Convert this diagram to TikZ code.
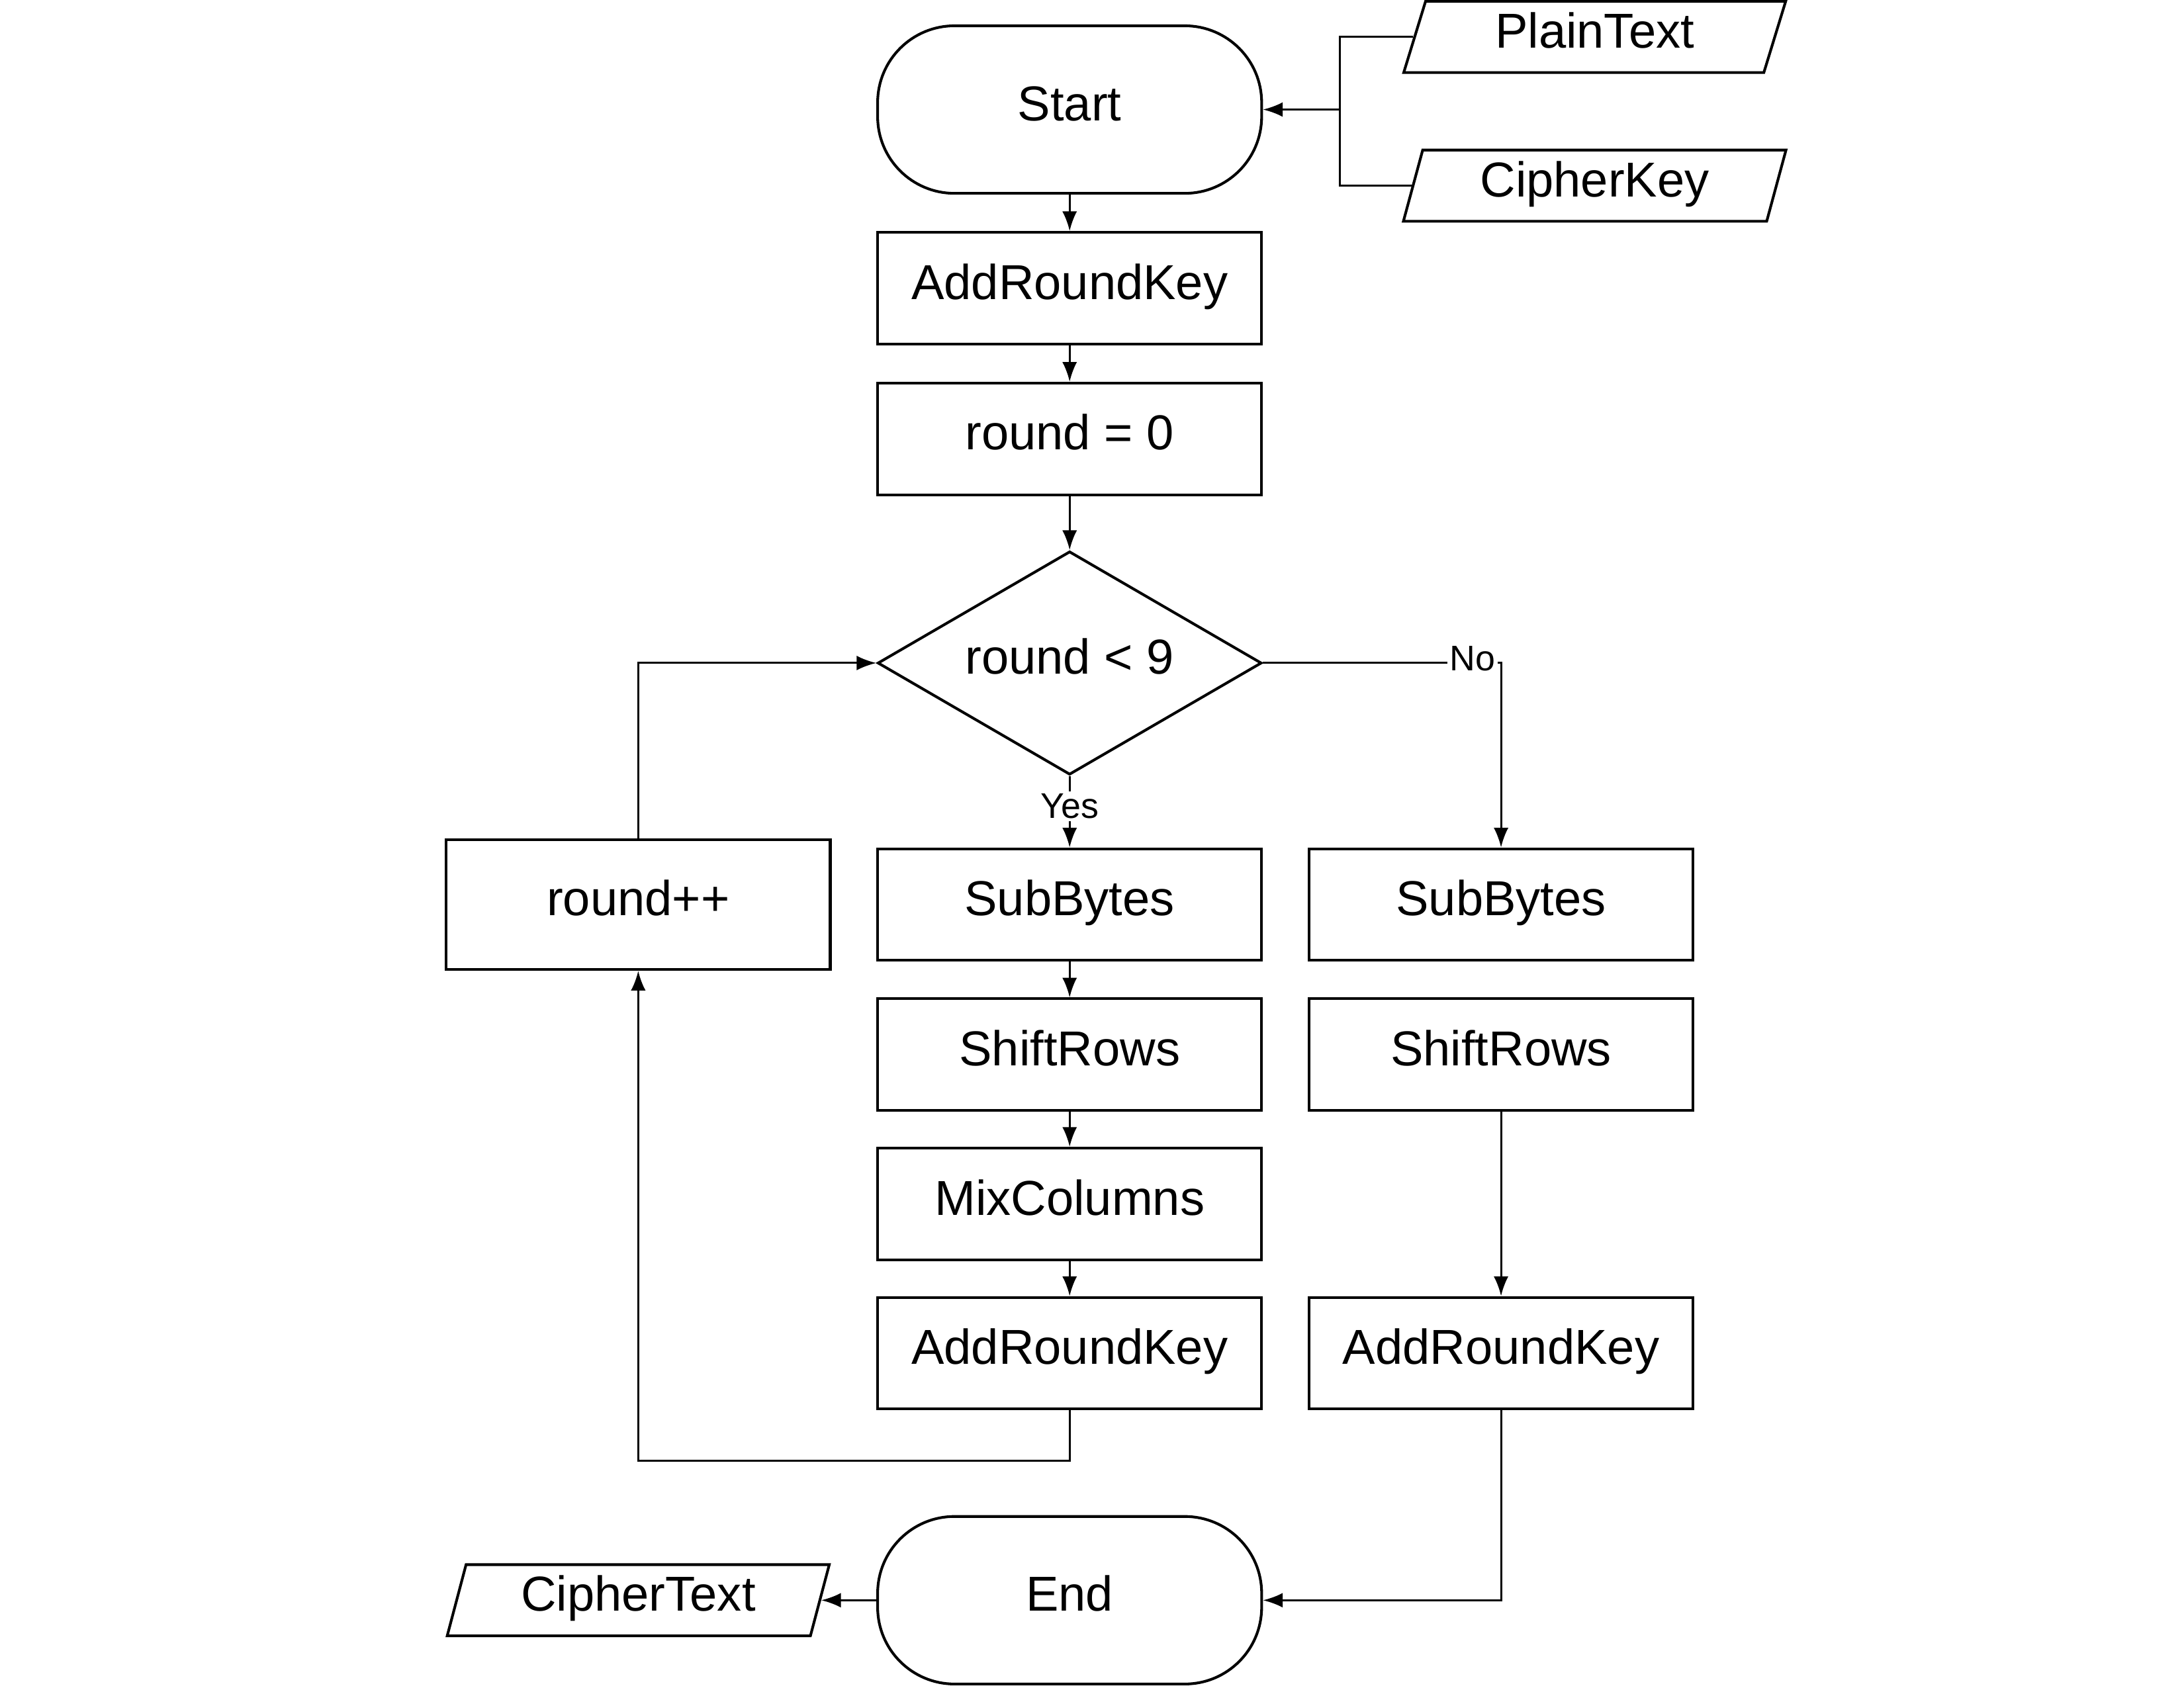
\documentclass[tikz,border=0pt]{standalone}
\usepackage{fontspec}
\setmainfont{Liberation Sans}
\usetikzlibrary{shapes,matrix,arrows.meta}

\begin{document}
\begin{tikzpicture}[
          every node/.style={font=\fontsize{20pt}{24pt}\selectfont},
          block/.style={
            draw=black,
            line width=1.1pt,
            text height=15pt,
            text depth=6pt,
          },
          process/.style={
            block,
            rectangle,
            minimum width=5.5cm,
            minimum height=1.6cm,
            inner sep=0pt,
          },
          terminal/.style={
            block,
            rectangle,
            rounded corners=1.1cm,
            minimum width=5.5cm,
            minimum height=2.4cm,
          },
          decision/.style={
            block,
            diamond,
            aspect=1.72,
            minimum width=5.5cm,
            minimum height=3.2cm,
            inner sep=0pt,
          },
          data/.style={
            block,
            trapezium,
            trapezium left angle=76,
            trapezium right angle=104,
            trapezium stretches=true,
            minimum width=5.48cm,
            minimum height=1.02cm,
            inner sep=0pt,
          },
          flow/.style={line width=0.8pt},
          answer/.style={font=\fontsize{14.5pt}{17pt}\selectfont, fill=white, inner sep=1pt},
          >={Latex[length=8pt,width=6pt]},
        ]
          \matrix[row sep=0.38cm, column sep=0.64cm]{%
            & \node[terminal](start){Start}; & \\[0.14cm]
            & \node[process](ark1){AddRoundKey}; & \\[0.14cm]
            & \node[process](init){round = 0}; & \\[0.4cm]
            & \node[decision](check){round < 9}; & \\[0.52cm]
            \node[process, minimum height=1.86cm](inc){round++}; & \node[process](sb1){SubBytes}; & \node[process](sb2){SubBytes}; \\
            & \node[process](sr1){ShiftRows}; & \node[process](sr2){ShiftRows}; \\[0.12cm]
            & \node[process](mix){MixColumns}; & \\[0.12cm]
            & \node[process](ark2){AddRoundKey}; & \node[process](ark3){AddRoundKey}; \\[1.12cm]
            \node[data](ctext){CipherText}; & \node[terminal](end){End}; & \\
          };
          \node[data](plain) at ([xshift=7.52cm, yshift=1.04cm]start.center){PlainText};
          \node[data](key) at ([xshift=7.52cm, yshift=-1.09cm]start.center){CipherKey};
          \coordinate (merge) at ([xshift=1.1cm]start.east);
          \coordinate (back) at ([yshift=-0.72cm]ark2.south);
          \useasboundingbox ([shift={(-15.32cm,1.56cm)}]start.center) rectangle ++(31.28cm,-24.17cm);
          \draw[flow] (plain.west) -| (merge) |- (key.west);
          \draw[flow]
              (merge) edge [->] (start.east)
              (start) edge [->] (ark1)
              (ark1) edge [->] (init)
              (init) edge [->] (check)
              (check) edge [->] node[answer, yshift=0.08cm]{Yes} (sb1)
              (sb1) edge [->] (sr1)
              (sr1) edge [->] (mix)
              (mix) edge [->] (ark2)
              (sr2) edge [->] (ark3)
              (end.west) edge [->] (ctext.east);
          \draw[flow,->] (check.east) -| node[answer, pos=0.44, yshift=0.06cm]{No} (sb2.north);
          \draw[flow,->] (ark2.south) -- (back) -| (inc.south);
          \draw[flow,->] (inc.north) |- (check.west);
          \draw[flow,->] (ark3.south) |- (end.east);
        \end{tikzpicture}
\end{document}
